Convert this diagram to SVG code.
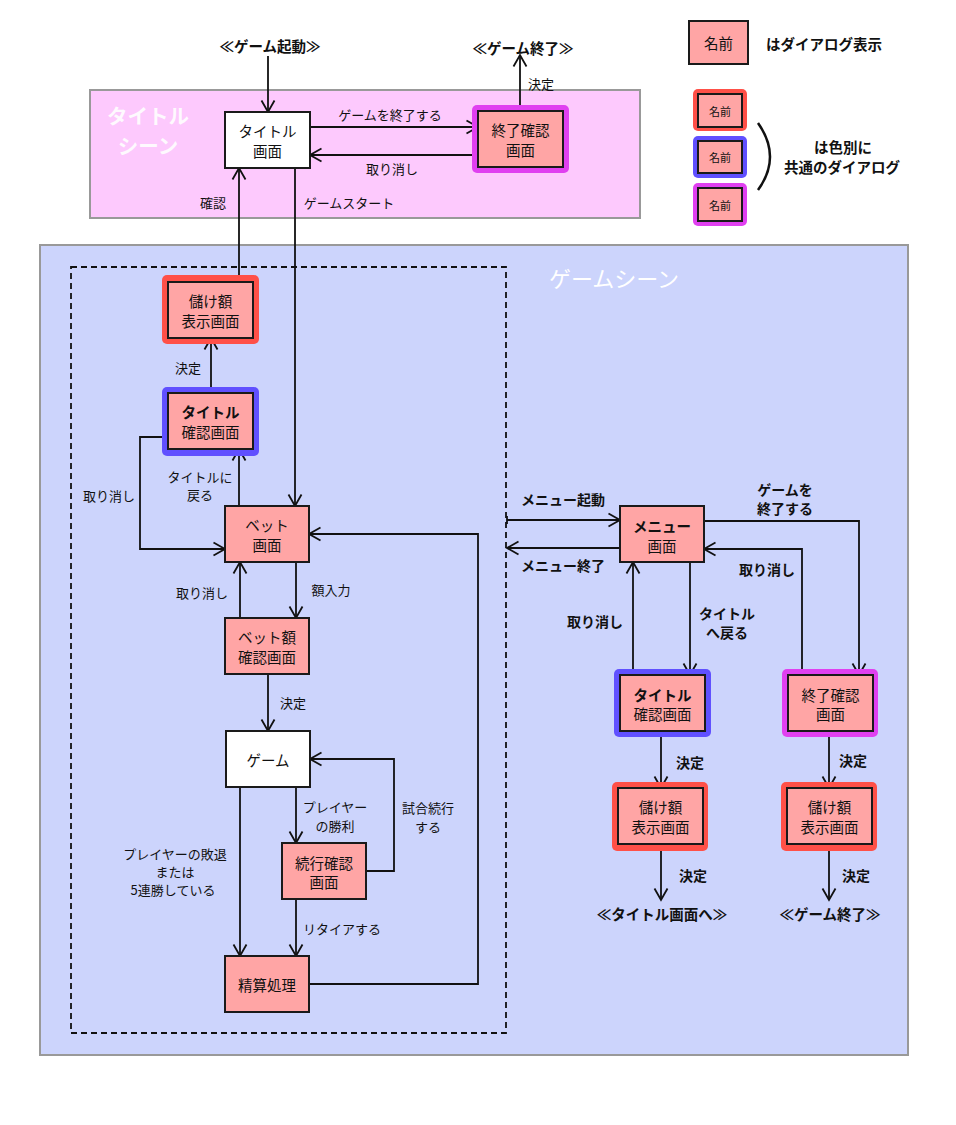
<svg xmlns="http://www.w3.org/2000/svg" width="956" height="1125" viewBox="0 0 956 1125">
<defs>
<style>
.ln{fill:none;stroke:#111;stroke-width:1.8}
.a{marker-end:url(#ah)}
.box{fill:#ffa5a5;stroke:#1a1a1a;stroke-width:2}
.wbox{fill:#fff;stroke:#1a1a1a;stroke-width:2}
.gr{fill:#ff5048}
.gb{fill:#6050ff}
.gm{fill:#e040f0}
text{font-family:"Noto Sans CJK JP","Noto Sans",sans-serif;fill:#111;text-anchor:middle;dominant-baseline:central}
.t{font-size:14.5px}
.lb{font-size:13px}
.rb{font-size:14px;font-weight:bold}
.b{font-weight:bold}
.sc{font-size:22px;fill:#fff}
.ts{font-size:20.5px;font-weight:bold;fill:#fff;opacity:0.9}
</style>
<marker id="ah" markerUnits="userSpaceOnUse" markerWidth="16" markerHeight="16" refX="13" refY="8" orient="auto">
<path d="M1.5,1.5 L13,8 L1.5,14.5" fill="none" stroke="#111" stroke-width="1.8"/>
</marker>
<marker id="tee" markerUnits="userSpaceOnUse" markerWidth="4" markerHeight="10" refX="2" refY="5" orient="auto">
<path d="M2,1 L2,9" stroke="#111" stroke-width="1.8"/>
</marker>
</defs>
<rect width="956" height="1125" fill="#fff"/>

<g id="title-scene">
<rect x="90" y="90" width="550" height="128" fill="#fdc9fd" stroke="#999" stroke-width="2"/>
<text class="ts" x="148" y="115">タイトル</text>
<text class="ts" x="148" y="145">シーン</text>
</g>
<g id="game-scene">
<rect x="40" y="245" width="868" height="810" fill="#ccd4fc" stroke="#999" stroke-width="2"/>
<text class="sc" x="614" y="277">ゲームシーン</text>
<rect x="71" y="267" width="435" height="766" fill="none" stroke="#111" stroke-width="1.8" stroke-dasharray="6,4"/>
</g>

<g id="legend">
<g id="legend-dialog">
<rect class="box" x="689" y="21" width="59" height="43"/>
<text class="t" x="718.5" y="42.5">名前</text>
<text class="t b" x="824" y="43">はダイアログ表示</text>
</g>
<g id="legend-red">
<rect class="gr" x="693" y="89" width="54" height="42" rx="5"/>
<rect class="box" x="698" y="94" width="44" height="33"/>
<text x="720" y="110.5" style="font-size:11px">名前</text>
</g>
<g id="legend-blue">
<rect class="gb" x="693" y="136" width="54" height="42" rx="5"/>
<rect class="box" x="698" y="141" width="44" height="32"/>
<text x="720" y="157" style="font-size:11px">名前</text>
</g>
<g id="legend-magenta">
<rect class="gm" x="693" y="183" width="54" height="43" rx="5"/>
<rect class="box" x="698" y="188" width="44" height="33"/>
<text x="720" y="204.5" style="font-size:11px">名前</text>
</g>
<path d="M758,123 Q782,157 758,190" fill="none" stroke="#111" stroke-width="2.5"/>
<text class="t b" x="843" y="146">は色別に</text>
<text class="t b" x="842" y="166">共通のダイアログ</text>
</g>

<g id="connectors">
<text class="t b" x="270" y="45">≪ゲーム起動≫</text>
<path class="ln a" d="M268,56 L268,112"/>
<text class="t b" x="523" y="47">≪ゲーム終了≫</text>
<path class="ln a" d="M520,111 L520,55"/>
<text class="lb" x="541" y="83">決定</text>
<path class="ln a" d="M310,127 L478,127"/>
<text class="lb" x="390" y="114">ゲームを終了する</text>
<path class="ln a" d="M478,155 L310,155"/>
<text class="lb" x="392" y="168">取り消し</text>
<path class="ln a" d="M239,282 L239,168"/>
<text class="lb" x="213" y="202">確認</text>
<path class="ln a" d="M295,168 L295,506"/>
<text class="lb" x="349" y="202">ゲームスタート</text>

<path class="ln a" d="M211,393 L211,338"/>
<text class="lb" x="188" y="367">決定</text>
<path class="ln a" d="M239,506 L239,449"/>
<text class="lb" x="200" y="476">タイトルに</text>
<text class="lb" x="200" y="494">戻る</text>
<path class="ln a" d="M168,437 L140,437 L140,549 L225,549"/>
<text class="lb" x="109" y="495">取り消し</text>
<path class="ln a" d="M240,618 L240,562"/>
<text class="lb" x="202" y="592">取り消し</text>
<path class="ln a" d="M296,562 L296,618"/>
<text class="lb" x="331" y="589">額入力</text>
<path class="ln a" d="M268,674 L268,731"/>
<text class="lb" x="293" y="702">決定</text>
<path class="ln a" d="M296,787 L296,843"/>
<text class="lb" x="335" y="806">プレイヤー</text>
<text class="lb" x="335" y="825">の勝利</text>
<path class="ln a" d="M366,871 L394,871 L394,759 L310,759"/>
<text class="lb" x="428" y="807">試合続行</text>
<text class="lb" x="428" y="826">する</text>
<path class="ln a" d="M240,787 L240,956"/>
<text class="lb" x="175" y="853">プレイヤーの敗退</text>
<text class="lb" x="175" y="871">または</text>
<text class="lb" x="173" y="889">5連勝している</text>
<path class="ln a" d="M296,899 L296,956"/>
<text class="lb" x="342" y="928">リタイアする</text>
<path class="ln a" d="M309,984 L478,984 L478,534 L309,534"/>

<path class="ln a" d="M507,520 L620,520" marker-start="url(#tee)"/>
<text class="rb" x="563" y="499">メニュー起動</text>
<path class="ln a" d="M620,548 L507,548"/>
<text class="rb" x="563" y="565">メニュー終了</text>
<path class="ln a" d="M704,521 L859,521 L859,675"/>
<text class="rb" x="785" y="489">ゲームを</text>
<text class="rb" x="785" y="508">終了する</text>
<path class="ln a" d="M802,675 L802,549 L704,549"/>
<text class="rb" x="767" y="569">取り消し</text>
<path class="ln a" d="M633,675 L633,562"/>
<text class="rb" x="595" y="621">取り消し</text>
<path class="ln a" d="M690,562 L690,675"/>
<text class="rb" x="727" y="613">タイトル</text>
<text class="rb" x="727" y="632">へ戻る</text>
<path class="ln a" d="M661,731 L661,788"/>
<text class="rb" x="690" y="762">決定</text>
<path class="ln a" d="M661,844 L661,900"/>
<text class="rb" x="693" y="875">決定</text>
<text class="t b" x="662" y="913">≪タイトル画面へ≫</text>
<path class="ln a" d="M829,731 L829,788"/>
<text class="rb" x="853" y="760">決定</text>
<path class="ln a" d="M829,844 L829,900"/>
<text class="rb" x="856" y="875">決定</text>
<text class="t b" x="830" y="913">≪ゲーム終了≫</text>
</g>

<g id="title-screen">
<rect class="wbox" x="225" y="112" width="85" height="56"/>
<text class="t" x="267.5" y="130.5">タイトル</text>
<text class="t" x="267.5" y="150">画面</text>
</g>
<g id="end-confirm-top">
<rect class="gm" x="472" y="105" width="97" height="68" rx="5"/>
<rect class="box" x="478" y="111" width="85" height="56"/>
<text class="t" x="520.5" y="129.5">終了確認</text>
<text class="t" x="520.5" y="149">画面</text>
</g>
<g id="payout-left">
<rect class="gr" x="162" y="275" width="97" height="69" rx="5"/>
<rect class="box" x="168" y="282" width="85" height="56"/>
<text class="t" x="210.5" y="300.5">儲け額</text>
<text class="t" x="210.5" y="320">表示画面</text>
</g>
<g id="title-confirm-left">
<rect class="gb" x="162" y="387" width="97" height="69" rx="5"/>
<rect class="box" x="168" y="393" width="85" height="56"/>
<text class="t b" x="210.5" y="411.5">タイトル</text>
<text class="t" x="210.5" y="431">確認画面</text>
</g>
<g id="bet">
<rect class="box" x="225" y="506" width="84" height="56"/>
<text class="t" x="267" y="524.5">ベット</text>
<text class="t" x="267" y="544">画面</text>
</g>
<g id="bet-confirm">
<rect class="box" x="225" y="618" width="84" height="56"/>
<text class="t" x="267" y="636.5">ベット額</text>
<text class="t" x="267" y="656">確認画面</text>
</g>
<g id="game">
<rect class="wbox" x="226" y="731" width="84" height="56"/>
<text class="t" x="268" y="759">ゲーム</text>
</g>
<g id="continue-confirm">
<rect class="box" x="282" y="843" width="84" height="56"/>
<text class="t" x="324" y="862">続行確認</text>
<text class="t" x="324" y="881.5">画面</text>
</g>
<g id="settle">
<rect class="box" x="225" y="956" width="84" height="56"/>
<text class="t" x="267" y="984">精算処理</text>
</g>
<g id="menu">
<rect class="box" x="620" y="506" width="84" height="56"/>
<text class="t b" x="662" y="525.5">メニュー</text>
<text class="t" x="662" y="545">画面</text>
</g>
<g id="title-confirm-right">
<rect class="gb" x="614" y="669" width="97" height="68" rx="5"/>
<rect class="box" x="620" y="675" width="85" height="56"/>
<text class="t b" x="662.5" y="694">タイトル</text>
<text class="t" x="662.5" y="713.5">確認画面</text>
</g>
<g id="end-confirm-right">
<rect class="gm" x="782" y="669" width="96" height="68" rx="5"/>
<rect class="box" x="788" y="675" width="85" height="56"/>
<text class="t" x="830.5" y="694">終了確認</text>
<text class="t" x="830.5" y="713.5">画面</text>
</g>
<g id="payout-mid">
<rect class="gr" x="612" y="782" width="96" height="69" rx="5"/>
<rect class="box" x="618" y="788" width="85" height="56"/>
<text class="t" x="660.5" y="806.5">儲け額</text>
<text class="t" x="660.5" y="826">表示画面</text>
</g>
<g id="payout-right">
<rect class="gr" x="781" y="782" width="96" height="69" rx="5"/>
<rect class="box" x="787" y="788" width="85" height="56"/>
<text class="t" x="829.5" y="806.5">儲け額</text>
<text class="t" x="829.5" y="826">表示画面</text>
</g>
</svg>
